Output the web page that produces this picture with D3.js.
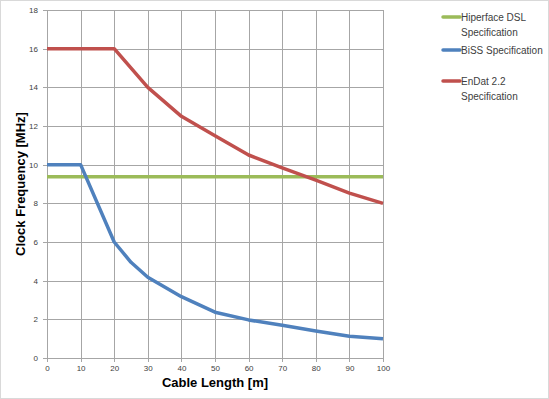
<!DOCTYPE html>
<html>
<head>
<meta charset="utf-8">
<script src="https://cdn.jsdelivr.net/npm/d3@7"></script>
<style>
  body { margin: 0; background: #fff; }
  svg { display: block; font-family: "Liberation Sans", Arial, sans-serif; }
</style>
</head>
<body>
<div id="chart"></div>
<script>
// Chart data
const cableLengths = [0, 10, 20, 25, 30, 40, 50, 60, 70, 80, 90, 100];
const hiperfaceX = [0, 100];
const hiperfaceY = [9.375, 9.375];
const bissX = [0, 10, 20, 25, 30, 40, 50, 60, 70, 80, 90, 100];
const bissY = [10, 10, 6, 4.95, 4.18, 3.17, 2.37, 1.97, 1.69, 1.4, 1.13, 0.99];
const endatX = [0, 10, 20, 30, 40, 50, 60, 70, 80, 90, 100];
const endatY = [16, 16, 16, 14, 12.5, 11.5, 10.5, 9.83, 9.2, 8.53, 8.0];
const xTicks = [0, 10, 20, 30, 40, 50, 60, 70, 80, 90, 100];
const yTicks = [0, 2, 4, 6, 8, 10, 12, 14, 16, 18];
const seriesNames = ['Hiperface DSL|Specification', 'BiSS Specification', 'EnDat 2.2|Specification'];
const seriesColors = ['#9bbb59', '#4f81bd', '#c0504d'];

const width = 549, height = 399;
const margin = { left: 47, right: 166, top: 10, bottom: 41 };

const svg = d3.select('#chart').append('svg')
    .attr('width', width)
    .attr('height', height);

// outer frame
svg.append('rect')
    .attr('x', 0.5).attr('y', 0.5)
    .attr('width', width - 1).attr('height', height - 1)
    .attr('fill', '#fff')
    .attr('stroke', '#d9d9d9');

const x = d3.scaleLinear().domain([0, 100]).range([margin.left, width - margin.right]);
const y = d3.scaleLinear().domain([0, 18]).range([height - margin.bottom, margin.top]);

// grid
const grid = svg.append('g');
grid.selectAll('.gx').data(xTicks).enter().append('line')
    .attr('x1', d => Math.round(x(d)) + 0.5).attr('x2', d => Math.round(x(d)) + 0.5)
    .attr('y1', y(18)).attr('y2', y(0) + 4)
    .attr('stroke', '#a6a6a6').attr('stroke-width', 1);
grid.selectAll('.gy').data(yTicks).enter().append('line')
    .attr('x1', x(0) - 4).attr('x2', x(100))
    .attr('y1', d => Math.round(y(d)) + 0.5).attr('y2', d => Math.round(y(d)) + 0.5)
    .attr('stroke', '#a6a6a6').attr('stroke-width', 1);

// axes labels via d3 axes
const xAxis = svg.append('g')
    .attr('transform', `translate(0,${y(0)})`)
    .call(d3.axisBottom(x).tickValues(xTicks).tickSize(0).tickPadding(7));
const yAxis = svg.append('g')
    .attr('transform', `translate(${x(0)},0)`)
    .call(d3.axisLeft(y).tickValues(yTicks).tickSize(0).tickPadding(9));
svg.selectAll('.domain').remove();
svg.selectAll('.tick text')
    .attr('fill', '#404040')
    .attr('font-size', '8px')
    .attr('font-family', '"Liberation Sans", Arial, sans-serif');

// axis titles
svg.append('text')
    .attr('x', (x(0) + x(100)) / 2).attr('y', 387)
    .attr('text-anchor', 'middle')
    .attr('font-size', '13px').attr('font-weight', 'bold')
    .attr('fill', '#000')
    .text('Cable Length [m]');
svg.append('text')
    .attr('transform', `translate(25,${(y(0) + y(18)) / 2}) rotate(-90)`)
    .attr('text-anchor', 'middle')
    .attr('font-size', '13px').attr('font-weight', 'bold')
    .attr('fill', '#000')
    .text('Clock Frequency [MHz]');

// series lines
const line = d3.line().x(d => x(d[0])).y(d => y(d[1]));
const series = [
    d3.zip(hiperfaceX, hiperfaceY),
    d3.zip(bissX, bissY),
    d3.zip(endatX, endatY)
];
series.forEach((pts, i) => {
    svg.append('path')
        .datum(pts)
        .attr('d', line)
        .attr('fill', 'none')
        .attr('stroke', seriesColors[i])
        .attr('stroke-width', 3.5)
        .attr('stroke-linejoin', 'round');
});

// legend
const legendY = [17, 50, 81];
seriesNames.forEach((name, i) => {
    const g = svg.append('g').attr('transform', `translate(443,${legendY[i]})`);
    g.append('line')
        .attr('x1', 0).attr('x2', 17)
        .attr('stroke', seriesColors[i])
        .attr('stroke-width', 3.5)
        .attr('stroke-linecap', 'round');
    name.split('|').forEach((t, j) => {
        g.append('text')
            .attr('x', 18).attr('y', j * 15 + 4)
            .attr('font-size', '10px')
            .attr('fill', '#404040')
            .text(t);
    });
});
</script>
</body>
</html>
